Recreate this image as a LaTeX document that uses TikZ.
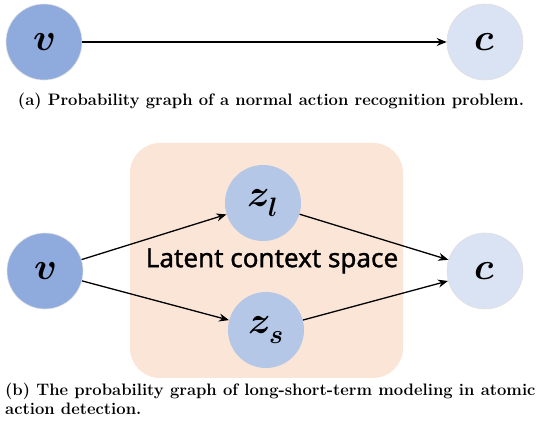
\documentclass[tikz,border=0pt]{standalone}
\usepackage{amsmath}
\usepackage{fontspec}
\usepackage{unicode-math}
\setmathfont{Latin Modern Math}
\newfontfamily\labelfont[FakeBold=1.2]{Noto Sans}
\usetikzlibrary{arrows.meta}
\definecolor{vblue}{HTML}{8FAADC}
\definecolor{zblue}{HTML}{B4C7E7}
\definecolor{cblue}{HTML}{DAE3F3}
\definecolor{peach}{HTML}{FBE5D6}
\tikzset{
  circ/.style={circle, minimum size=76pt, inner sep=0pt, draw=black!12, line width=0.6pt, font=\fontsize{38}{40}\selectfont},
  arr/.style={-{Stealth[length=10pt,width=8pt]}, line width=1.3pt},
  captxt/.style={anchor=base west, inner sep=0pt, font=\bfseries\fontsize{16.6}{20}\selectfont},
}
\begin{document}
\begin{tikzpicture}[x=1pt,y=-1pt]
\useasboundingbox (0,0) rectangle (544,430);
% (a)
\node[circ, fill=vblue] (v1) at (44,42) {$\symbfit{v}$};
\node[circ, fill=cblue] (c1) at (485,42) {$\symbfit{c}$};
\draw[arr] (v1) -- (c1);
\node[anchor=base, inner sep=0pt, font=\bfseries\fontsize{16.6}{20}\selectfont] (capa) at (271,106) {(a) Probability graph of a normal action recognition problem.};
% (b)
\node[fill=peach, rounded corners=30pt, minimum width=273pt, minimum height=235pt, inner sep=0pt] (ctx) at (266.5,260.5) {};
\node[inner sep=0pt, font=\labelfont\fontsize{26}{30}\selectfont] (lat) at (272,261) {Latent context space};
\node[circ, fill=vblue] (v2) at (45,271) {$\symbfit{v}$};
\node[circ, fill=cblue] (c2) at (485,271) {$\symbfit{c}$};
\node[circ, fill=zblue, draw=none] (zl) at (263,203) {$\symbfit{z}_{\symbfit{l}}$};
\node[circ, fill=zblue, draw=none] (zs) at (266,330) {$\symbfit{z}_{\symbfit{s}}$};
\draw[arr] (v2) -- (zl);
\draw[arr] (v2) -- (zs);
\draw[arr] (zl) -- (c2);
\draw[arr] (zs) -- (c2);
\node[captxt] (capb1) at (5,396) {(b) The probability graph of long-short-term modeling in atomic};
\node[captxt] (capb2) at (5,415) {action detection.};
\end{tikzpicture}
\end{document}
